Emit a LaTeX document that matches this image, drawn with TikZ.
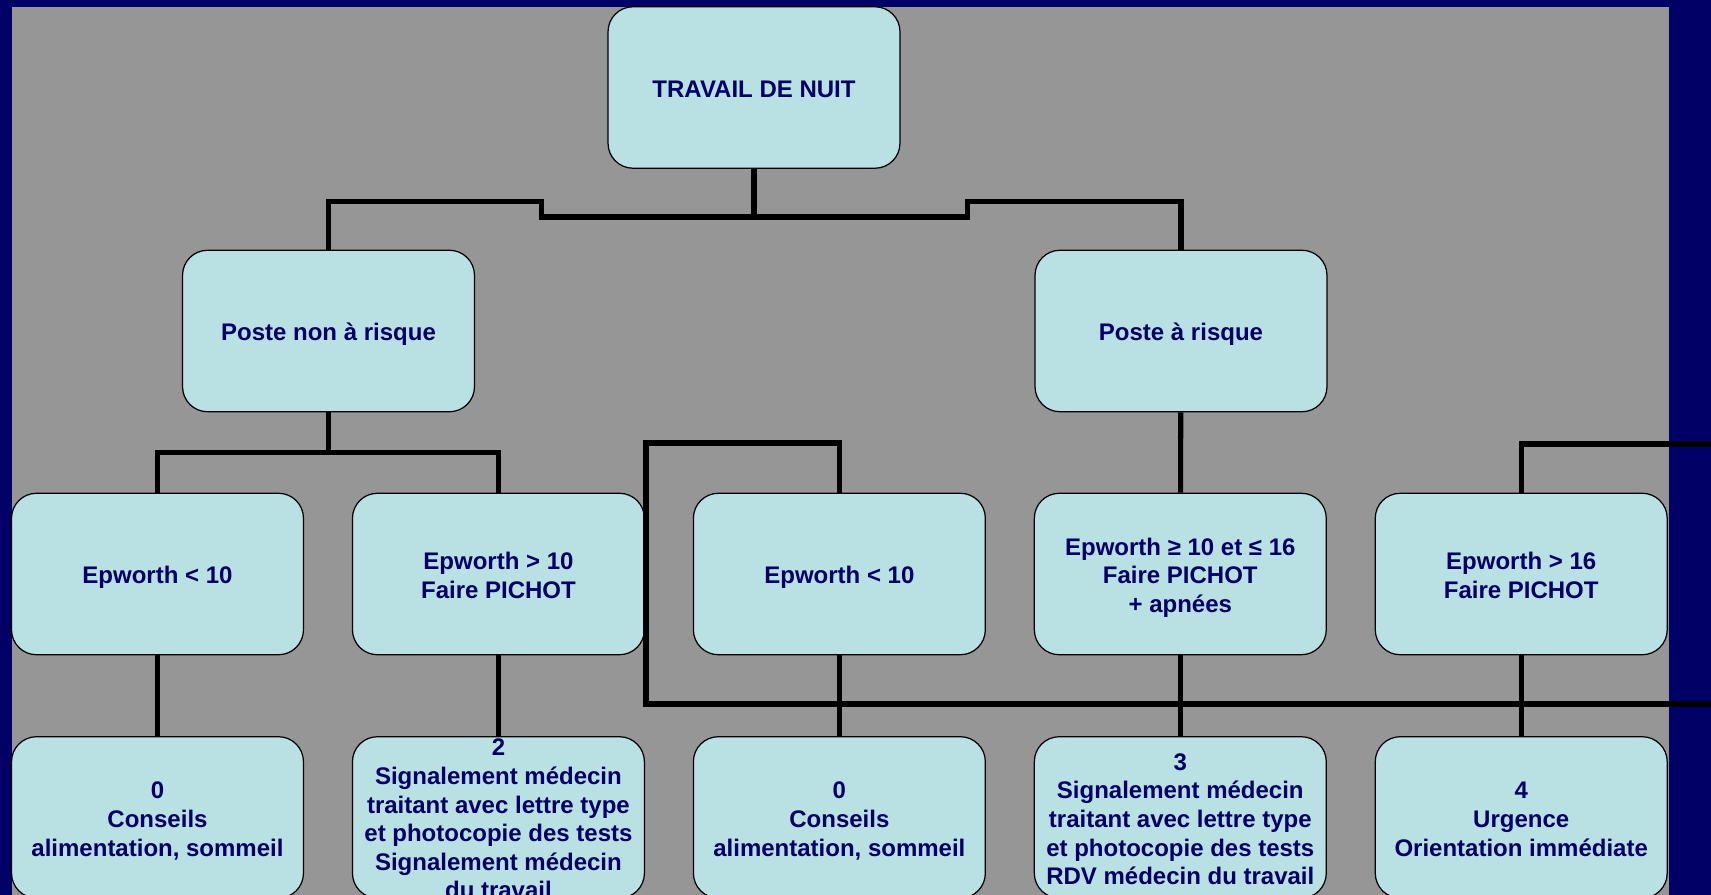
\documentclass[tikz,border=0pt]{standalone}
\usepackage{fontspec}
\setmainfont{Liberation Sans}
\usepackage{tikz}
\definecolor{frame}{RGB}{0,0,102}
\definecolor{panel}{RGB}{150,150,150}
\definecolor{boxfill}{RGB}{185,224,227}
% text of a box: centred lines that do not change the size of the box
\newcommand{\boxlines}[1]{\smash{\raisebox{-6pt}{\begin{tabular}{@{}c@{}}#1\end{tabular}}}}
\tikzset{
box/.style = {draw=black, line width=0.7pt, fill=boxfill, rectangle, rounded corners=0.5cm,
    minimum width=5.84cm, minimum height=3.23cm, inner sep=0pt,
    text=frame, font=\fontsize{13.66}{16.3}\selectfont\bfseries},
link/.style = {draw=black, line width=2.9pt},
tmp/.style  = {coordinate}
}

\begin{document}
\begin{tikzpicture}[x=0.02cm, y=-0.02cm, node distance=6.82cm]
    % dark frame with the grey panel on it
    \useasboundingbox [fill=frame] (0,0) rectangle (1711,895);
    \fill [panel] (12,7) rectangle (1668.5,895);

    % We start by placing the boxes
    \node at (754,87.5) [box] (nuit) {\boxlines{TRAVAIL DE NUIT}};
    \node at (328.5,331) [box] (nonrisk) {\boxlines{Poste non à risque}};
    \node at (1181,331) [box] (risk) {\boxlines{Poste à risque}};
    \node at (157.5,574) [box] (e1) {\boxlines{Epworth < 10}};
    \node [box, right of=e1] (e2) {\boxlines{Epworth > 10\\Faire PICHOT}};
    \node [box, right of=e2] (e3) {\boxlines{Epworth < 10}};
    \node [box, right of=e3] (e4) {\boxlines{Epworth ≥ 10 et ≤ 16\\Faire PICHOT\\+ apnées}};
    \node [box, right of=e4] (e5) {\boxlines{Epworth > 16\\Faire PICHOT}};
    \node [box, below of=e1, node distance=4.87cm] (r1) {\boxlines{0\\Conseils\\alimentation, sommeil}};
    \node [box, below of=e2, node distance=4.87cm] (r2) {\boxlines{2\\Signalement médecin\\traitant avec lettre type\\et photocopie des tests\\Signalement médecin\\du travail}};
    \node [box, below of=e3, node distance=4.87cm] (r3) {\boxlines{0\\Conseils\\alimentation, sommeil}};
    \node [box, below of=e4, node distance=4.87cm] (r4) {\boxlines{3\\Signalement médecin\\traitant avec lettre type\\et photocopie des tests\\RDV médecin du travail}};
    \node [box, below of=e5, node distance=4.87cm] (r5) {\boxlines{4\\Urgence\\Orientation immédiate}};

    % Turning points of the links
    \node [tmp] at (541.7,217) (tmp1) {};
    \node [tmp] at (967.7,217) (tmp2) {};
    \node [tmp] at (328.5,452.5) (tmp3) {};
    \node [tmp] at (646,443) (tmp4) {};
    \node [tmp] at (1711,704) (tmp5) {};
    \node [tmp] at (1711,444) (tmp6) {};

    % Then the links between the boxes
    \draw [link] (nuit) |- (tmp1) -- ++(0,-15.3) -| (nonrisk);
    \draw [link] (nuit) |- (tmp2) -- ++(0,-15.3) -| (risk);
    \draw [link] (nonrisk) -- (tmp3) -| (e1);
    \draw [link] (tmp3) -| (e2);
    \draw [link] (risk) -- (e4);
    \draw [link] (tmp5) -| (tmp4) -| (e3);
    \draw [link] (tmp6) -| (e5);
    \foreach \i in {1,...,5}
        \draw [link] (e\i) -- (r\i);
\end{tikzpicture}
\end{document}
